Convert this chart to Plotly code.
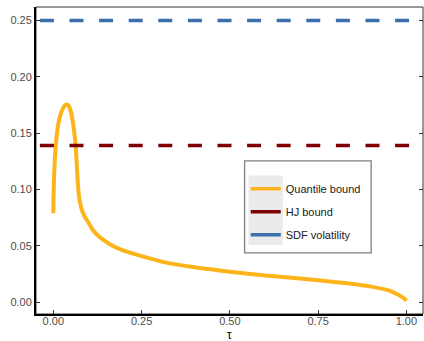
import plotly.graph_objects as go

# ---- data ----
tau = [0.000, 0.002, 0.007, 0.014, 0.022, 0.026, 0.030, 0.034, 0.038, 0.042,
       0.045, 0.048, 0.052, 0.055, 0.059, 0.063, 0.066, 0.069, 0.072, 0.076,
       0.082, 0.090, 0.099, 0.110, 0.127, 0.146, 0.160, 0.190, 0.226, 0.250,
       0.320, 0.400, 0.450, 0.500, 0.600, 0.750, 0.850, 0.900, 0.950, 0.970,
       0.985, 0.995, 1.000]
quantile_bound = [0.079, 0.110, 0.139, 0.158, 0.168, 0.1712, 0.1735, 0.1750, 0.1755, 0.1750,
                  0.1735, 0.1710, 0.1662, 0.1605, 0.1515, 0.140, 0.125, 0.108, 0.096, 0.088,
                  0.081, 0.0755, 0.0710, 0.0650, 0.0590, 0.0545, 0.0515, 0.0470, 0.0432, 0.0410,
                  0.0352, 0.0310, 0.0290, 0.0270, 0.0238, 0.0196, 0.0162, 0.0139, 0.0105, 0.0078,
                  0.0052, 0.0030, 0.0015]
hj_bound = 0.139
sdf_volatility = 0.25

x_range = [-0.049, 1.047]
y_range = [-0.0104, 0.262]
x_ticks = [0, 0.25, 0.5, 0.75, 1.0]
y_ticks = [0, 0.05, 0.10, 0.15, 0.20, 0.25]

ORANGE = "#FDB41A"
DARKRED = "#7F0000"
BLUE = "#3A6EAD"

line_x = [x_range[0] + 0.011, x_range[1]]

fig = go.Figure()
fig.add_trace(go.Scatter(x=tau, y=quantile_bound, mode="lines",
                         line=dict(color=ORANGE, width=4, shape="spline", smoothing=0.6),
                         showlegend=False))
fig.add_trace(go.Scatter(x=line_x, y=[hj_bound, hj_bound], mode="lines",
                         line=dict(color=DARKRED, width=3.5, dash="14px,15.6px"),
                         showlegend=False))
fig.add_trace(go.Scatter(x=line_x, y=[sdf_volatility, sdf_volatility], mode="lines",
                         line=dict(color=BLUE, width=3.5, dash="14px,15.6px"),
                         showlegend=False))

# legend entries (solid keys)
for name, col in [("Quantile bound", ORANGE), ("HJ bound", DARKRED), ("SDF volatility", BLUE)]:
    fig.add_trace(go.Scatter(x=[None], y=[None], mode="lines", name=name,
                             legendgroup=name, line=dict(color=col, width=3.5)))

axis_common = dict(showgrid=False, zeroline=False, ticks="inside", ticklen=4,
                   tickwidth=1, tickcolor="#333333", automargin=False,
                   tickfont=dict(family="Liberation Sans, Arial", size=11, color="#4D4D4D"))

fig.update_layout(
    width=424, height=341,
    margin=dict(l=36, r=1, t=7, b=27),
    plot_bgcolor="white", paper_bgcolor="white",
    xaxis=dict(range=x_range, tickvals=x_ticks, tickformat=".2f", ticklabelstandoff=-4,
               showline=True, linecolor="black", linewidth=2, **axis_common),
    yaxis=dict(range=y_range, tickvals=y_ticks, tickformat=".2f",
               showline=True, linecolor="black", linewidth=2, **axis_common),
    yaxis2=dict(range=y_range, tickvals=y_ticks, overlaying="y", side="right",
                showticklabels=False, showline=False, anchor="x", **axis_common),
    legend=dict(x=0.542, y=0.455, xanchor="left", yanchor="top",
                bgcolor="rgba(0,0,0,0)", borderwidth=0, tracegroupgap=4,
                font=dict(family="Liberation Sans, Arial", size=11, color="#1A1A1A")),
    annotations=[dict(text="τ", xref="paper", yref="paper", x=0.5, y=-0.069,
                      xanchor="center", yanchor="middle", showarrow=False,
                      font=dict(family="Liberation Sans, Arial", size=12, color="black"))],
    shapes=[
        dict(type="rect", xref="paper", yref="paper", x0=0, x1=1, y0=0, y1=1,
             line=dict(color="#333333", width=1), layer="below"),
        dict(type="rect", xref="paper", yref="paper",
             x0=0.539, x1=0.866, y0=0.199, y1=0.499,
             fillcolor="white", line=dict(color="#7F7F7F", width=1.3), layer="above"),
        dict(type="rect", xref="paper", yref="paper",
             x0=0.549, x1=0.638, y0=0.225, y1=0.451,
             fillcolor="#EBEBEB", line=dict(width=0), layer="above"),
    ],
)
# dummy trace to activate right axis ticks
fig.add_trace(go.Scatter(x=[None], y=[None], yaxis="y2", showlegend=False))

fig.write_html("out.html")
